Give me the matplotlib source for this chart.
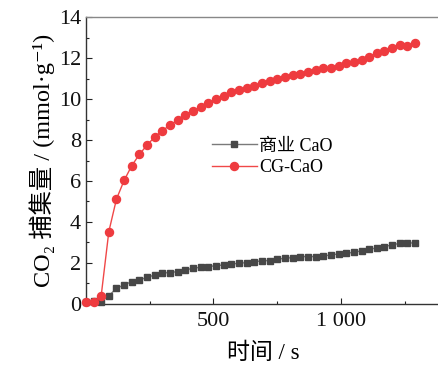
import matplotlib
matplotlib.use("Agg")
import matplotlib.pyplot as plt
from matplotlib.ticker import MultipleLocator, FixedLocator

plt.rcParams['font.family'] = ['Liberation Serif', 'Noto Sans CJK SC', 'DejaVu Sans']

time_s = list(range(0, 1291, 30))
commercial_cao = [0.11, 0.15, 0.11, 0.40, 0.76, 0.93, 1.09, 1.17, 1.30, 1.41,
                  1.51, 1.53, 1.58, 1.66, 1.74, 1.79, 1.82, 1.87, 1.90, 1.95,
                  1.98, 2.02, 2.05, 2.11, 2.11, 2.18, 2.23, 2.26, 2.31, 2.31,
                  2.31, 2.34, 2.39, 2.44, 2.47, 2.52, 2.59, 2.67, 2.73, 2.80,
                  2.88, 2.96, 2.96, 2.99]
cg_cao = [0.11, 0.10, 0.39, 3.53, 5.12, 6.03, 6.75, 7.30, 7.76, 8.15,
          8.46, 8.73, 8.98, 9.22, 9.43, 9.59, 9.79, 9.98, 10.15, 10.33,
          10.42, 10.52, 10.65, 10.76, 10.88, 10.96, 11.07, 11.15, 11.22, 11.32,
          11.40, 11.50, 11.53, 11.61, 11.74, 11.82, 11.90, 12.07, 12.23, 12.36,
          12.50, 12.62, 12.60, 12.75]
series_names = ['商业 CaO', 'CG-CaO']
x_ticks = [500, 1000]
x_ticklabels = ['500', '1 000']
y_ticks = [0, 2, 4, 6, 8, 10, 12, 14]

fig = plt.figure(figsize=(4.38, 3.72), dpi=100)
ax = fig.add_axes([0.196, 0.183, 0.81, 0.771])

ax.plot(time_s, commercial_cao, color='#7a7a7a', lw=1.0, marker='s', ms=4.6,
        mfc='#474747', mec='#474747', label=series_names[0], clip_on=False, zorder=3)
ax.plot(time_s, cg_cao, color='#f04848', lw=1.0, marker='o', ms=5.8,
        mfc='#ee3b3f', mec='#ee3b3f', label=series_names[1], clip_on=False, zorder=4)

ax.set_xlim(0, 1390)
ax.set_ylim(0, 14)
ax.xaxis.set_major_locator(FixedLocator(x_ticks))
ax.set_xticklabels(x_ticklabels)
ax.xaxis.set_minor_locator(FixedLocator([250, 750, 1250]))
ax.set_yticks(y_ticks)
ax.yaxis.set_minor_locator(MultipleLocator(1))

ax.tick_params(which='both', direction='in', colors='#222222', labelcolor='#111111')
ax.tick_params(which='major', length=4, width=0.8, labelsize=16)
ax.tick_params(which='minor', length=2.5, width=0.8)
ax.tick_params(axis='x', pad=6)

for s in ['left', 'bottom']:
    ax.spines[s].set_color('#333333')
    ax.spines[s].set_linewidth(1.0)
ax.spines['top'].set_color('#888888')
ax.spines['top'].set_linewidth(1.0)
ax.spines['right'].set_visible(False)

ax.set_xlabel('时间 / s', fontsize=16.5, labelpad=8)
ax.set_ylabel('CO\u2082 捕集量 / (mmol·g\u207b\u00b9)', fontsize=17.5, labelpad=3)

leg = ax.legend(loc='upper left', bbox_to_anchor=(0.335, 0.605), frameon=False,
                fontsize=13, handlelength=2.5, handletextpad=0.1, labelspacing=0.25,
                borderaxespad=0)

fig.savefig('out.png', dpi=100)
